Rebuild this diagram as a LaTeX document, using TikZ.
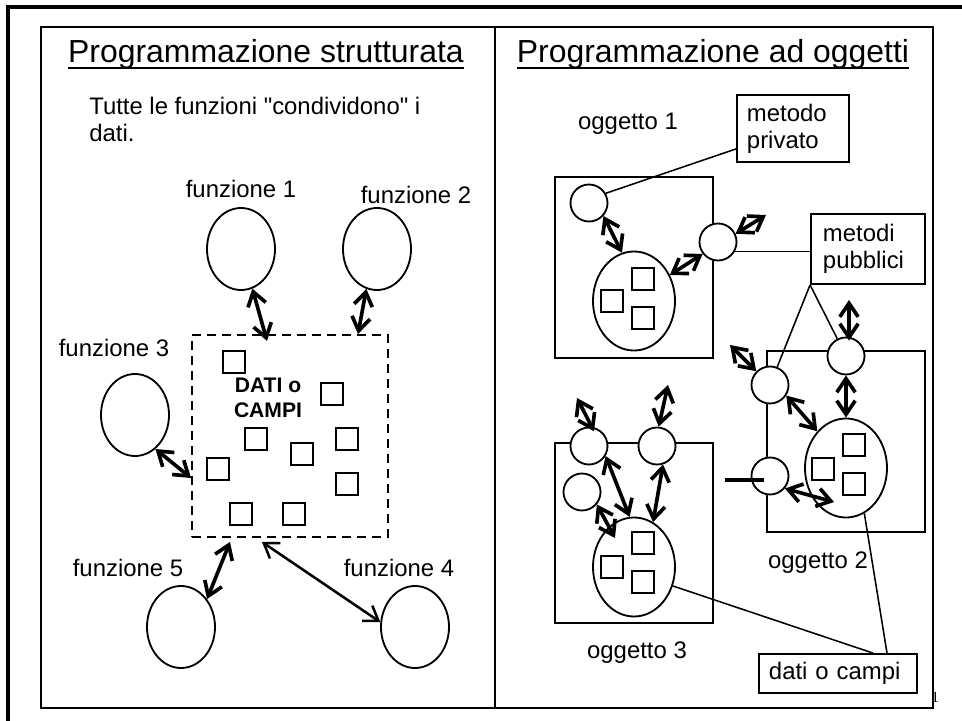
\documentclass[tikz,border=0pt]{standalone}
\usepackage{fontspec}
\setmainfont{Liberation Sans}[Ligatures=TeXOff]
\newfontfamily\numfont{Liberation Serif}
\usepackage{tikz}
\usetikzlibrary{positioning,shapes.geometric,arrows.meta}
\newsavebox\titbox
\newcommand\sottolinea[1]{\sbox\titbox{#1}\rlap{\rule[-0.15cm]{\wd\titbox}{0.045cm}}\usebox\titbox}

\begin{document}
\begin{tikzpicture}[x=0.025cm,y=-0.025cm,
testo/.style={font=\fontsize{17}{19.2}\selectfont,inner sep=0},
titolo/.style={font=\fontsize{22.7}{27}\selectfont,inner sep=0},
funz/.style={draw,ellipse,line width=1.3pt,minimum width=1.7cm,minimum height=2.05cm,inner sep=0},
campi/.style={draw,ellipse,line width=1.3pt,fill=white,minimum width=2.05cm,minimum height=2.475cm,inner sep=0},
dato/.style={draw,rectangle,line width=1.3pt,minimum size=0.55cm,inner sep=0},
metodo/.style={draw,circle,line width=1.3pt,fill=white,minimum size=0.925cm,inner sep=0},
oggetto/.style={draw,rectangle,line width=1.3pt,minimum width=3.95cm,inner sep=0},
nota/.style={draw,rectangle,line width=1.3pt,fill=white,align=left,font=\fontsize{17}{19.2}\selectfont,inner xsep=0.25cm,inner ysep=0},
freccia/.style={{Straight Barb[length=0.34cm,width=0.46cm]}-{Straight Barb[length=0.34cm,width=0.46cm]},line width=2.6pt},
linea/.style={line width=1.1pt}]
\useasboundingbox (0,0) rectangle (962,721);
\draw[line width=0.1cm] (8,721) -- (8,7) -- (962,7);
\draw[line width=1.3pt] (41,27) rectangle (495,708);
\draw[line width=1.3pt] (495,27) rectangle (933,708);

\node (tit1) [titolo,anchor=base] at (266,63) {\sottolinea{Programmazione strutturata}};
\node (tit2) [titolo,anchor=base] at (713,63) {\sottolinea{Programmazione ad oggetti}};
\node (intro) [testo,align=left,anchor=base west] at (89,142) {Tutte le funzioni "condividono" i\\dati.};

\node (dati) [draw,dash pattern=on 0.225cm off 0.15cm,line width=1.3pt,
    minimum width=4.9cm,minimum height=5.05cm,inner sep=0] at (290,436) {};
\node (campitxt) [font=\bfseries\fontsize{15}{17.8}\selectfont,align=center,inner sep=0,anchor=base] at (268,418) {DATI o\\CAMPI};
\node (d1) [dato] at (234,362) {};
\node (d2) [dato] at (332,394) {};
\node (d3) [dato] at (256,439) {};
\node (d4) [dato] at (347,439) {};
\node (d5) [dato] at (302,454) {};
\node (d6) [dato] at (218,469) {};
\node (d7) [dato] at (347,484) {};
\node (d8) [dato] at (241,514) {};
\node (d9) [dato] at (294,514) {};

\node (fun1) [funz] at (241,249) {};
\node (fun2) [funz] at (377,249) {};
\node (fun3) [funz] at (135,415) {};
\node (fun5) [funz] at (181,627) {};
\node (fun4) [funz] at (415,627) {};
\node (lf1) [testo,anchor=base] at (241,198) {funzione 1};
\node (lf2) [testo,anchor=base] at (416,204) {funzione 2};
\node (lf3) [testo,anchor=base] at (114,357) {funzione 3};
\node (lf5) [testo,anchor=base] at (128,576) {funzione 5};
\node (lf4) [testo,anchor=base] at (399,576) {funzione 4};

\draw[freccia] (fun1.-74) -- ([xshift=-0.575cm,yshift=-0.17cm]dati.north);
\draw[freccia] (fun2.-105) -- ([xshift=1.7cm]dati.north);
\draw[freccia] (fun3.-59) -- ([yshift=-1.05cm]dati.west);
\draw[freccia] ([xshift=-1.5cm,yshift=-0.1cm]dati.south) -- (fun5.47);
\draw[freccia,line width=1.8pt] ([xshift=-0.7cm,yshift=-0.1cm]dati.south) -- (fun4.172);

\node (ogg1) [oggetto,minimum height=4.525cm] at (634,267.5) {};
\node (ogg2) [oggetto,minimum height=4.525cm] at (846,441.5) {};
\node (ogg3) [oggetto,minimum height=4.5cm] at (634,533) {};
\node (log1) [testo,anchor=base] at (628,130) {oggetto 1};
\node (log2) [testo,anchor=base] at (818,568) {oggetto 2};
\node (log3) [testo,anchor=base] at (637,658) {oggetto 3};

\node (priv1) [metodo] at (589,203) {};
\node (pub1) [metodo] at (718,242) {};
\node (campi1) [campi] at (634,301) {};
\node (q11) [dato] at (643,279) {};
\node (q12) [dato] at (612,301) {};
\node (q13) [dato] at (643,318) {};

\node (pub2a) [metodo] at (846,356) {};
\node (pub2b) [metodo] at (770,385) {};
\node (pub2c) [metodo] at (770,476) {};
\node (campi2) [campi] at (846,468) {};
\node (q21) [dato] at (854,445) {};
\node (q22) [dato] at (823,469) {};
\node (q23) [dato] at (854,484) {};

\node (pub3a) [metodo] at (589,446) {};
\node (pub3b) [metodo] at (657,446) {};
\node (priv3) [metodo] at (582,492) {};
\node (campi3) [campi] at (634,567) {};
\node (q31) [dato] at (643,543) {};
\node (q32) [dato] at (612,567) {};
\node (q33) [dato] at (643,582) {};

\node (mpriv) [nota,text width=2.3cm,minimum height=1.675cm] at (793,128.5) {metodo\\privato};
\node (mpub) [nota,inner xsep=0.3cm,text width=2.25cm,minimum height=1.75cm] at (868,249) {metodi\\pubblici};
\node (dc) [nota,text width=3.45cm,minimum height=0.975cm] at (838,673.5) {dati o campi};

\draw[linea] (priv1.30) -- ([yshift=0.35cm]mpriv.south west);
\draw[linea] (pub1.-30) -- (pub1.-30 -| mpub.west);
\draw[linea] (mpub.south west) -- (pub2b);
\draw[linea] (mpub.south west) -- (pub2a);
\draw[linea] (campi3.-26) -- ([xshift=0.875cm]dc.north);
\draw[linea] (campi2.-68) -- ([xshift=1.225cm]dc.north);

\coordinate (fuori1) at (766,215);
\coordinate (fuori2a) at (849,300);
\coordinate (fuori2b) at (730,345);
\coordinate (fuori3a) at (577,398);
\coordinate (fuori3b) at (668,385);
\draw[freccia] (priv1.-42) -- (campi1.104);
\draw[freccia] (campi1.36) -- (pub1.-142);
\draw[freccia] (pub1.25) -- (fuori1);
\draw[freccia] (fuori2a) -- ([xshift=0.075cm,yshift=-0.1cm]pub2a.north);
\draw[freccia] (pub2a.south) -- (campi2.north);
\draw[freccia] (fuori2b) -- (pub2b.135);
\draw[freccia] (pub2b.-33) -- (campi2.128);
\draw[freccia] (pub2c.-40) -- ([xshift=-0.3cm,yshift=-0.85cm]campi2.center);
\draw[freccia] (fuori3a) -- ([yshift=-0.1cm]pub3a.75);
\draw[freccia] (fuori3b) -- (pub3b.85);
\draw[freccia] (pub3a.-31) -- (campi3.95);
\draw[freccia] (pub3b.-72) -- (campi3.67);
\draw[freccia] (priv3.-40) -- ([xshift=-0.475cm,yshift=0.725cm]campi3.center);
\draw[line width=0.1cm] (725,480) -- (764,480);

\node (pagina) [font=\numfont\fontsize{11}{13}\selectfont,inner sep=0,anchor=base west] at (931,702) {1};
\end{tikzpicture}
\end{document}
